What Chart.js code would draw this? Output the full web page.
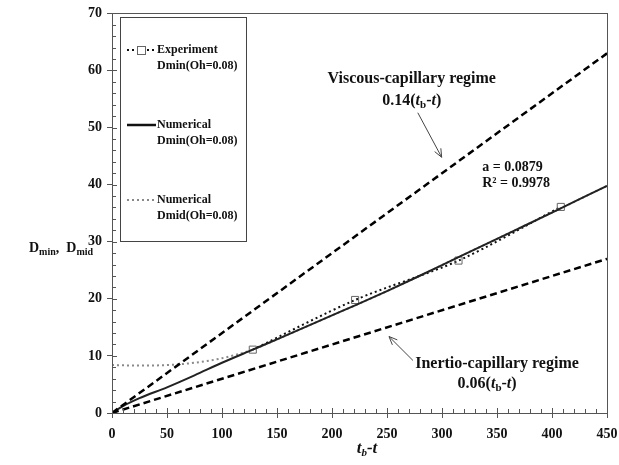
<!DOCTYPE html>
<html>
<head>
<meta charset="utf-8">
<script src="https://cdn.jsdelivr.net/npm/chart.js@4.4.1/dist/chart.umd.min.js"></script>
<style>
html, body { margin: 0; padding: 0; background: #fff; }
</style>
</head>
<body>
<canvas id="chart" width="619" height="465"></canvas>
<script>
// Numerical curves
const numX       = [0, 10, 25, 50, 75, 100, 128, 150, 175, 200, 221, 250, 275, 300, 315, 350, 375, 400, 425, 450];
const dminValues = [0, 1.2, 2.6, 4.5, 6.6, 8.8, 11.1, 12.9, 15.0, 17.1, 18.85, 21.35, 23.6, 25.9, 27.3, 30.5, 32.8, 35.1, 37.45, 39.8];
const dmidValues = [8.4, 8.35, 8.3, 8.4, 8.8, 9.6, 11.1, 12.9, 15.0, 17.1, 18.85, 21.35, 23.6, 25.9, 27.3, 30.5, 32.8, 35.1, 37.45, 39.8];

// Experiment Dmin
const expX      = [128, 221, 315, 408];
const expValues = [11.1, 19.8, 26.7, 36.1];

// Regime lines
const regimeX       = [0, 450];
const viscousValues = [0, 63];   // 0.14(tb-t)
const inertioValues = [0, 27];   // 0.06(tb-t)

const toPts = (xs, ys) => xs.map((x, i) => ({ x: x, y: ys[i] }));

const SERIF = '"Liberation Serif", "Times New Roman", serif';

// draw text made of pieces (subscripts / italics)
function drawRich(ctx, parts, x, y, align) {
    let total = 0;
    parts.forEach(p => { ctx.font = p.font; total += ctx.measureText(p.t).width; });
    let cx = align === 'center' ? x - total / 2 : x;
    ctx.textAlign = 'left';
    ctx.textBaseline = 'middle';
    ctx.fillStyle = '#111';
    parts.forEach(p => {
        ctx.font = p.font;
        ctx.fillText(p.t, cx, y + (p.dy || 0));
        cx += ctx.measureText(p.t).width;
    });
}

const B16 = 'bold 16px ' + SERIF;
const BI16 = 'italic bold 16px ' + SERIF;
const B11 = 'bold 11px ' + SERIF;

const extras = {
    id: 'extras',
    afterDraw(chart) {
        const ctx = chart.ctx;
        const xs = chart.scales.x, ys = chart.scales.y;
        const a = chart.chartArea;
        ctx.save();

        // frame
        ctx.strokeStyle = '#555';
        ctx.lineWidth = 1;
        ctx.strokeRect(Math.round(a.left) + 0.5, Math.round(a.top) + 0.5, Math.round(a.right - a.left), Math.round(a.bottom - a.top));

        // inner ticks
        ctx.beginPath();
        for (let v = 0; v <= 450; v += 10) {
            const px = Math.round(xs.getPixelForValue(v)) + 0.5;
            const len = v % 50 === 0 ? 5 : 4;
            ctx.moveTo(px, a.bottom);
            ctx.lineTo(px, a.bottom - len);
        }
        for (let v = 0; v <= 70; v += 2) {
            const py = Math.round(ys.getPixelForValue(v)) + 0.5;
            const len = v % 10 === 0 ? 5 : 4;
            ctx.moveTo(a.left, py);
            ctx.lineTo(a.left + len, py);
        }
        ctx.stroke();

        // legend box
        ctx.strokeStyle = '#444';
        ctx.strokeRect(120.5, 17.5, 126, 224);
        const items = [
            { y: 50, l1: 'Experiment', l2: 'Dmin(Oh=0.08)', color: '#111', dash: [2, 3], w: 2, marker: true },
            { y: 125, l1: 'Numerical', l2: 'Dmin(Oh=0.08)', color: '#111', dash: [], w: 2.5 },
            { y: 200, l1: 'Numerical', l2: 'Dmid(Oh=0.08)', color: '#888', dash: [2, 3], w: 2 }
        ];
        items.forEach(it => {
            ctx.beginPath();
            ctx.setLineDash(it.dash);
            ctx.strokeStyle = it.color;
            ctx.lineWidth = it.w;
            ctx.moveTo(127, it.y);
            ctx.lineTo(156, it.y);
            ctx.stroke();
            ctx.setLineDash([]);
            if (it.marker) {
                ctx.fillStyle = '#fff';
                ctx.fillRect(137, it.y - 4, 9, 9);
                ctx.strokeStyle = '#666';
                ctx.lineWidth = 1;
                ctx.strokeRect(137.5, it.y - 3.5, 8, 8);
            }
            ctx.font = 'bold 12px ' + SERIF;
            ctx.fillStyle = '#111';
            ctx.textAlign = 'left';
            ctx.textBaseline = 'middle';
            ctx.fillText(it.l1, 157, it.y);
            ctx.fillText(it.l2, 157, it.y + 16);
        });

        // annotations, placed in data coordinates
        const P = (x, y) => [xs.getPixelForValue(x), ys.getPixelForValue(y)];
        let p = P(272.5, 58.5);
        drawRich(ctx, [{ t: 'Viscous-capillary regime', font: B16 }], p[0], p[1], 'center');
        p = P(272.5, 54.7);
        drawRich(ctx, [{ t: '0.14(', font: B16 }, { t: 't', font: BI16 }, { t: 'b', font: B11, dy: 4 },
            { t: '-', font: B16 }, { t: 't', font: BI16 }, { t: ')', font: B16 }], p[0], p[1], 'center');
        p = P(350, 8.6);
        drawRich(ctx, [{ t: 'Inertio-capillary regime', font: B16 }], p[0], p[1], 'center');
        p = P(341, 5.1);
        drawRich(ctx, [{ t: '0.06(', font: B16 }, { t: 't', font: BI16 }, { t: 'b', font: B11, dy: 4 },
            { t: '-', font: B16 }, { t: 't', font: BI16 }, { t: ')', font: B16 }], p[0], p[1], 'center');
        p = P(336.5, 43.1);
        drawRich(ctx, [{ t: 'a = 0.0879', font: 'bold 14px ' + SERIF }], p[0], p[1], 'left');
        p = P(336.5, 40.3);
        drawRich(ctx, [{ t: 'R² = 0.9978', font: 'bold 14px ' + SERIF }], p[0], p[1], 'left');

        // arrows
        const arrow = (x0, y0, x1, y1) => {
            const s = P(x0, y0), e = P(x1, y1);
            ctx.strokeStyle = '#444';
            ctx.lineWidth = 1;
            ctx.beginPath();
            ctx.moveTo(s[0], s[1]);
            ctx.lineTo(e[0], e[1]);
            const ang = Math.atan2(e[1] - s[1], e[0] - s[0]);
            ctx.moveTo(e[0], e[1]);
            ctx.lineTo(e[0] - 9 * Math.cos(ang - 0.4), e[1] - 9 * Math.sin(ang - 0.4));
            ctx.moveTo(e[0], e[1]);
            ctx.lineTo(e[0] - 9 * Math.cos(ang + 0.4), e[1] - 9 * Math.sin(ang + 0.4));
            ctx.stroke();
        };
        arrow(278, 52.6, 299.7, 44.8);
        arrow(273.6, 9.2, 251.8, 13.4);

        // axis titles
        drawRich(ctx, [{ t: 'D', font: 'bold 14px ' + SERIF }, { t: 'min', font: 'bold 10px ' + SERIF, dy: 4 },
            { t: ',  D', font: 'bold 14px ' + SERIF }, { t: 'mid', font: 'bold 10px ' + SERIF, dy: 4 }], 29, 248, 'left');
        drawRich(ctx, [{ t: 't', font: 'italic bold 17px ' + SERIF }, { t: 'b', font: 'italic bold 11px ' + SERIF, dy: 4 },
            { t: '-t', font: 'italic bold 17px ' + SERIF }], 367, 449, 'center');

        ctx.restore();
    }
};

new Chart(document.getElementById('chart'), {
    type: 'scatter',
    data: {
        datasets: [
            {
                label: 'Viscous-capillary regime',
                data: toPts(regimeX, viscousValues),
                showLine: true,
                borderColor: '#000',
                borderWidth: 2.5,
                borderDash: [7, 4],
                pointRadius: 0
            },
            {
                label: 'Inertio-capillary regime',
                data: toPts(regimeX, inertioValues),
                showLine: true,
                borderColor: '#000',
                borderWidth: 2.5,
                borderDash: [7, 4],
                pointRadius: 0
            },
            {
                label: 'Numerical Dmin(Oh=0.08)',
                data: toPts(numX, dminValues),
                showLine: true,
                borderColor: '#222',
                borderWidth: 2,
                cubicInterpolationMode: 'monotone',
                pointRadius: 0
            },
            {
                label: 'Numerical Dmid(Oh=0.08)',
                data: toPts(numX, dmidValues),
                showLine: true,
                borderColor: '#8a8a8a',
                borderWidth: 2,
                borderDash: [2, 3],
                cubicInterpolationMode: 'monotone',
                pointRadius: 0
            },
            {
                label: 'Experiment Dmin(Oh=0.08)',
                data: toPts(expX, expValues),
                showLine: true,
                borderColor: '#111',
                borderWidth: 2,
                borderDash: [2, 3],
                tension: 0.3,
                pointStyle: 'rect',
                pointRadius: 5,
                pointBorderColor: '#666',
                pointBorderWidth: 1,
                pointBackgroundColor: 'rgba(0,0,0,0)'
            }
        ]
    },
    options: {
        responsive: false,
        animation: false,
        layout: {
            padding: { top: 12, right: 0, left: 0, bottom: 0 }
        },
        scales: {
            x: {
                type: 'linear',
                min: 0,
                max: 450,
                afterFit: scale => {
                    scale.height = 52;
                    scale.paddingRight = 12;
                    scale.paddingLeft = 0;
                },
                border: { color: '#555', width: 1 },
                grid: { drawOnChartArea: false, drawTicks: true, tickLength: 5, color: '#555' },
                ticks: {
                    stepSize: 50,
                    padding: 8,
                    color: '#111',
                    font: { family: SERIF, size: 14, weight: 'bold' }
                }
            },
            y: {
                min: 0,
                max: 70,
                afterFit: scale => { scale.width = 112; },
                border: { color: '#555', width: 1 },
                grid: { drawOnChartArea: false, drawTicks: true, tickLength: 5, color: '#555' },
                ticks: {
                    stepSize: 10,
                    padding: 5,
                    color: '#111',
                    font: { family: SERIF, size: 14, weight: 'bold' }
                }
            }
        },
        plugins: {
            legend: { display: false },
            tooltip: { enabled: false }
        }
    },
    plugins: [extras]
});
</script>
</body>
</html>
